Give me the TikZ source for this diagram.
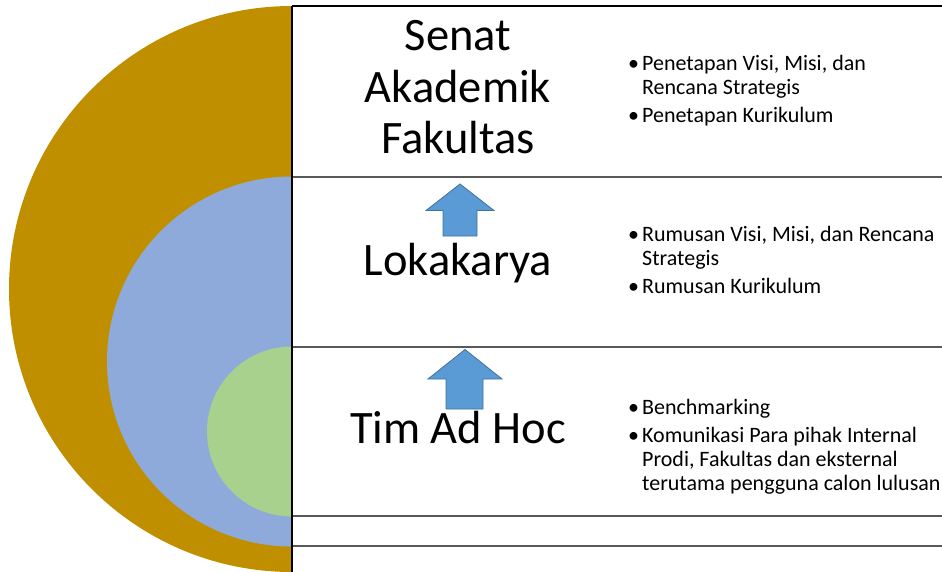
\documentclass[tikz,border=0pt]{standalone}
\usepackage{fontspec}
\setmainfont{Carlito}
\definecolor{gold}{HTML}{BF8F00}
\definecolor{paleblue}{HTML}{8EAADB}
\definecolor{palegreen}{HTML}{A9D18E}
\definecolor{arrowfill}{HTML}{5B9BD5}
\definecolor{arrowline}{HTML}{41719C}
\definecolor{rulegray}{HTML}{595959}
\begin{document}
\begin{tikzpicture}[x=1pt,y=-1pt,
  title/.style={font=\fontsize{46.5}{51.5}\selectfont, align=center, inner sep=0pt},
  bullets/.style={font=\fontsize{22}{24}\selectfont, inner sep=0pt, anchor=base west},
  sep/.style={draw=rulegray, line width=1.2pt},
  uparrow/.style={fill=arrowfill, draw=arrowline, line width=0.8pt}]
\useasboundingbox[fill=white] (0,0) rectangle (942,572);
\begin{scope}
  \clip (0,0) rectangle (292,572);
  \fill[gold] (292,289) circle[radius=283pt];
  \fill[paleblue] (292,361.5) circle[radius=185pt];
  \fill[palegreen] (292,431.5) circle[radius=85pt];
\end{scope}
\draw[sep] (292,177) -- (942,177);
\draw[sep] (292,347) -- (942,347);
\draw[sep] (292,516) -- (942,516);
\draw[sep] (292,546) -- (942,546);
\draw[black, line width=1.2pt] (292,6) -- (942,6);
\draw[black, line width=1.2pt] (292,6) -- (292,572);
% arrows
\draw[uparrow] (460,184) -- (494,210.5) -- (477,210.5) -- (477,236) -- (443,236) -- (443,210.5) -- (426,210.5) -- cycle;
\draw[uparrow] (465,349.5) -- (502,379) -- (483,379) -- (483,409) -- (446,409) -- (446,379) -- (428,379) -- cycle;
% titles
\node[title, anchor=base] (senat) at (458,51) {Senat};
\node[title, anchor=base] (akad) at (458,102.5) {Akademik};
\node[title, anchor=base] (fak) at (458,154) {Fakultas};
\node[title, anchor=base] (loka) at (458,275) {Lokakarya};
\node[title, anchor=base] (tim) at (458,443) {Tim Ad Hoc};
% bullets
\node[bullets] (b1) at (628,71) {\begin{tabular}[t]{@{}l@{\hspace{3pt}}l@{}}
  • & Penetapan Visi, Misi, dan\\
    & Rencana Strategis\\[4pt]
  • & Penetapan Kurikulum
\end{tabular}};
\node[bullets] (b2) at (628,241) {\begin{tabular}[t]{@{}l@{\hspace{3pt}}l@{}}
  • & Rumusan Visi, Misi, dan Rencana\\
    & Strategis\\[4pt]
  • & Rumusan Kurikulum
\end{tabular}};
\node[bullets] (b3) at (628,414) {\begin{tabular}[t]{@{}l@{\hspace{3pt}}l@{}}
  • & Benchmarking\\[4pt]
  • & Komunikasi Para pihak Internal\\
    & Prodi, Fakultas dan eksternal\\
    & terutama pengguna calon lulusan
\end{tabular}};
\end{tikzpicture}
\end{document}
